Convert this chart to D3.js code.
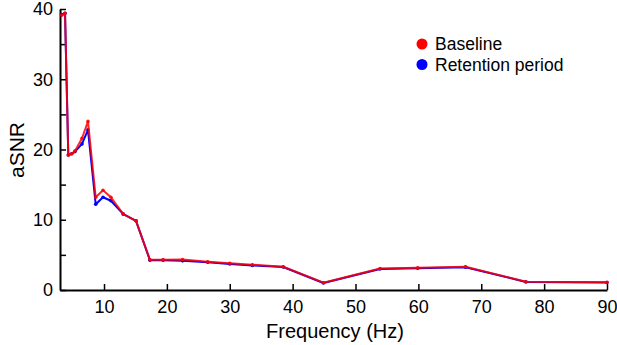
<!DOCTYPE html>
<html>
<head>
<meta charset="utf-8">
<script src="https://cdn.jsdelivr.net/npm/d3@7"></script>
<style>
  body { margin: 0; background: #fff; }
  svg text { font-family: "Liberation Sans", Arial, sans-serif; fill: #000; }
</style>
</head>
<body>
<svg id="chart"></svg>
<script>
// data
var frequency = [3.27, 3.8, 4.32, 4.86, 5.39, 6.5, 7.45, 8.68, 9.84, 11.1, 13.07, 15.09, 17.3, 19.4, 22.5, 26.5, 30.0, 33.6, 38.5, 44.9, 53.9, 59.9, 67.5, 77.1, 90.0];
var baseline = [39.1, 39.4, 19.2, 19.4, 19.8, 21.6, 24.0, 13.2, 14.2, 13.2, 10.8, 9.85, 4.3, 4.3, 4.35, 4.03, 3.8, 3.6, 3.31, 1.04, 3.05, 3.17, 3.31, 1.18, 1.09];
var retention = [39.2, 39.4, 19.2, 19.4, 19.7, 20.8, 22.8, 12.2, 13.2, 12.7, 10.8, 9.85, 4.25, 4.25, 4.15, 3.95, 3.7, 3.5, 3.28, 1.0, 2.98, 3.1, 3.25, 1.15, 1.07];
var xTicks = [10, 20, 30, 40, 50, 60, 70, 80, 90];
var yTicks = [0, 10, 20, 30, 40];
var yMinorTicks = [5, 15, 25, 35];
var seriesNames = ["Baseline", "Retention period"];
var seriesColors = ["#ff0000", "#0000ff"];

var width = 617, height = 345;
var svg = d3.select("#chart").attr("width", width).attr("height", height);

var x = d3.scaleLinear().domain([3, 90]).range([60, 607]);
var y = d3.scaleLinear().domain([0, 40]).range([290, 9]);

// axes (ticks point inward)
svg.append("g").attr("transform", "translate(0,290)")
    .call(d3.axisBottom(x).tickValues(xTicks).tickSizeInner(-6).tickSizeOuter(0).tickPadding(10));
svg.append("g").attr("transform", "translate(60,0)")
    .call(d3.axisLeft(y).tickValues(yTicks).tickSizeInner(-6).tickSizeOuter(0).tickPadding(7));
svg.append("g").attr("transform", "translate(60,0)")
    .call(d3.axisLeft(y).tickValues(yMinorTicks).tickSizeInner(-6).tickSizeOuter(0).tickFormat(""))
    .select(".domain").remove();

svg.selectAll(".domain").attr("stroke", "#000").attr("stroke-width", 2);
svg.selectAll(".tick line").attr("stroke", "#000").attr("stroke-width", 1.5);
svg.selectAll(".tick text").style("font-size", "18px").style("font-family", "Liberation Sans, Arial, sans-serif");

// lines
var line = d3.line().x(function (d) { return x(d[0]); }).y(function (d) { return y(d[1]); });
var drawSeries = [
    { values: retention, color: seriesColors[1], opacity: 1 },
    { values: baseline, color: seriesColors[0], opacity: 0.85 }
];
drawSeries.forEach(function (s) {
    var pts = frequency.map(function (f, i) { return [f, s.values[i]]; });
    svg.append("path")
        .attr("d", line(pts))
        .attr("fill", "none")
        .attr("stroke", s.color)
        .attr("stroke-opacity", s.opacity)
        .attr("stroke-width", 2)
        .attr("stroke-linejoin", "round");
    svg.append("g").selectAll("circle").data(pts).enter().append("circle")
        .attr("cx", function (d) { return x(d[0]); })
        .attr("cy", function (d) { return y(d[1]); })
        .attr("r", 1.8)
        .attr("fill", s.color)
        .attr("fill-opacity", s.opacity);
});

// axis titles
svg.append("text")
    .attr("transform", "translate(24,150) rotate(-90)")
    .attr("text-anchor", "middle")
    .style("font-size", "21px")
    .text("aSNR");
svg.append("text")
    .attr("x", 335).attr("y", 338)
    .attr("text-anchor", "middle")
    .style("font-size", "20px")
    .text("Frequency (Hz)");

// legend
seriesNames.forEach(function (name, i) {
    svg.append("circle").attr("cx", 422).attr("cy", 44 + i * 20.5).attr("r", 5.5).attr("fill", seriesColors[i]);
    svg.append("text").attr("x", 435).attr("y", 50 + i * 20.5).style("font-size", "17.5px").text(name);
});
</script>
</body>
</html>
